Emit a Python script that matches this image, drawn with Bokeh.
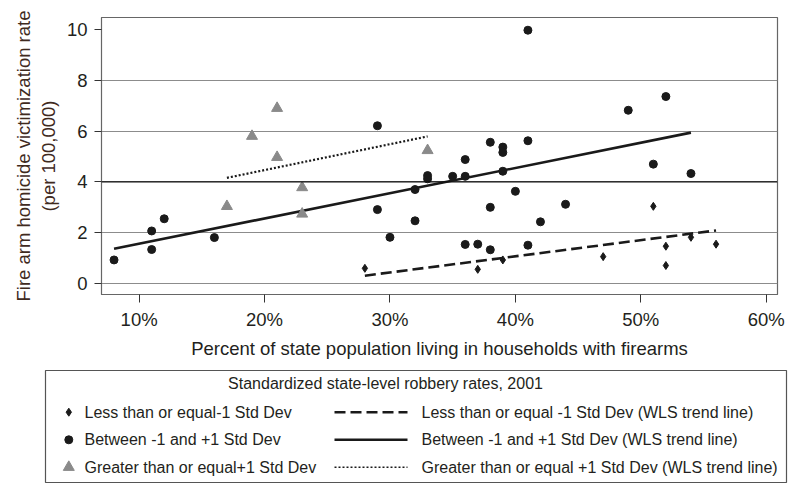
from bokeh.plotting import figure
from bokeh.layouts import column
from bokeh.models import FixedTicker, Span, Range1d
from bokeh.core.properties import value
from bokeh.embed import file_html
from bokeh.resources import INLINE

# ---- data ----
less_x = [28, 37, 39, 47, 51, 52, 52, 54, 56]
less_y = [0.60, 0.56, 0.93, 1.06, 3.04, 1.47, 0.71, 1.82, 1.55]

mid_x = [8, 11, 11, 12, 16, 29, 29, 30, 32, 32, 33, 33, 35, 36, 36, 36, 37,
         38, 38, 38, 39, 39, 39, 40, 41, 41, 41, 42, 44, 49, 51, 52, 54]
mid_y = [0.93, 2.07, 1.34, 2.55, 1.81, 6.21, 2.91, 1.82, 3.70, 2.47, 4.25, 4.12,
         4.22, 4.88, 4.22, 1.54, 1.55, 5.56, 3.00, 1.33, 5.37, 5.16, 4.42, 3.63,
         9.97, 5.62, 1.51, 2.43, 3.12, 6.82, 4.70, 7.36, 4.33]

high_x = [17, 19, 21, 21, 23, 23, 33]
high_y = [3.04, 5.80, 6.90, 4.97, 3.78, 2.74, 5.24]

less_trend_x = [28, 56]
less_trend_y = [0.31, 2.09]
mid_trend_x = [8, 54]
mid_trend_y = [1.37, 5.94]
high_trend_x = [17, 33]
high_trend_y = [4.16, 5.79]

x_ticks = [10, 20, 30, 40, 50, 60]
x_tick_labels = ["10%", "20%", "30%", "40%", "50%", "60%"]
y_ticks = [0, 2, 4, 6, 8, 10]
y_grid = [0, 2, 4, 6, 8]
dark_grid = [4]

legend_title = "Standardized state-level robbery rates, 2001"
legend_marker_labels = ["Less than or equal-1 Std Dev",
                        "Between -1 and +1 Std Dev",
                        "Greater than or equal+1 Std Dev"]
legend_line_labels = ["Less than or equal -1 Std Dev (WLS trend line)",
                      "Between -1 and +1 Std Dev (WLS trend line)",
                      "Greater than or equal +1 Std Dev (WLS trend line)"]

FONT = "Liberation Sans"
TXT = "#231f20"
BLACK = "#1a1a1a"
GREY = "#8a8a8a"

# ---- main plot ----
p = figure(width=791, height=364, x_range=Range1d(7, 60.9), y_range=Range1d(-0.43, 10.47),
           output_backend="svg", toolbar_location=None,
           min_border_left=101, min_border_right=14, min_border_top=17, min_border_bottom=70)
p.frame_align = False
p.outline_line_color = "#666666"
p.outline_line_width = 1.2
p.xgrid.visible = False
p.ygrid.ticker = FixedTicker(ticks=y_grid)
p.ygrid.grid_line_color = "#8c8c8c"
p.ygrid.grid_line_width = 1.2
for loc in dark_grid:
    p.add_layout(Span(location=loc, dimension="width", line_color="#111111", line_width=1.2))

for ax in (p.xaxis[0], p.yaxis[0]):
    ax.axis_line_color = "#666666"
    ax.major_tick_line_color = "#333333"
    ax.minor_tick_line_color = None
    ax.major_tick_in = 0
    ax.major_label_text_font = FONT
    ax.major_label_text_font_size = "18.5px"
    ax.major_label_text_color = TXT
    ax.axis_label_text_font = FONT
    ax.axis_label_text_font_size = "18.5px"
    ax.axis_label_text_font_style = "normal"

p.xaxis.ticker = FixedTicker(ticks=x_ticks)
p.xaxis.major_label_overrides = dict(zip(x_ticks, x_tick_labels))
p.xaxis.major_tick_out = 8
p.xaxis.major_label_standoff = 6
p.xaxis.axis_label = "Percent of state population living in households with firearms"
p.xaxis.axis_label_text_color = TXT
p.xaxis.axis_label_standoff = 5

p.yaxis.ticker = FixedTicker(ticks=y_ticks)
p.yaxis.major_tick_out = 7
p.yaxis.major_label_standoff = 7
p.yaxis.axis_label = "Fire arm homicide victimization rate\n(per 100,000)"
p.yaxis.axis_label_text_color = "#3f2a1e"
p.yaxis.axis_label_standoff = 5

p.line(less_trend_x, less_trend_y, line_color=BLACK, line_width=2.6, line_dash="11 5")
p.line(mid_trend_x, mid_trend_y, line_color=BLACK, line_width=2.6)
p.line(high_trend_x, high_trend_y, line_color=BLACK, line_width=2.2, line_dash="2 2")

p.scatter(less_x, less_y, marker="diamond", size=8, fill_color=BLACK, line_color=BLACK)
p.scatter(mid_x, mid_y, marker="circle", size=8, fill_color=BLACK, line_color=BLACK)
p.scatter(high_x, high_y, marker="triangle", size=11, fill_color=GREY, line_color=GREY)

# ---- legend panel ----
lf = figure(width=791, height=120, x_range=Range1d(0, 791), y_range=Range1d(120, 0),
            output_backend="svg", toolbar_location=None,
            min_border_left=0, min_border_right=0, min_border_top=0, min_border_bottom=0)
lf.frame_align = False
lf.axis.visible = False
lf.grid.visible = False
lf.outline_line_color = None
lf.quad(left=[45], right=[786], top=[6], bottom=[118], fill_color=None,
        line_color="#555555", line_width=1.2)
lf.text(x=[385], y=[19], text=[legend_title], text_font=value(FONT), text_font_size="16px",
        text_color=TXT, text_align="center", text_baseline="middle")
rows = [47.7, 75.3, 102.7]
lf.text(x=[84] * 3, y=rows, text=legend_marker_labels, text_font=value(FONT),
        text_font_size="16px", text_color=TXT, text_align="left", text_baseline="middle")
lf.text(x=[421] * 3, y=rows, text=legend_line_labels, text_font=value(FONT),
        text_font_size="16px", text_color=TXT, text_align="left", text_baseline="middle")
lf.scatter([68.3], [rows[0]], marker="diamond", size=8, fill_color=BLACK, line_color=BLACK)
lf.scatter([68.3], [rows[1]], marker="circle", size=8, fill_color=BLACK, line_color=BLACK)
lf.scatter([68.3], [rows[2]], marker="triangle", size=11, fill_color=GREY, line_color=GREY)
lf.line([334, 407], [rows[0]] * 2, line_color=BLACK, line_width=2.6, line_dash="11 5")
lf.line([334, 407], [rows[1]] * 2, line_color=BLACK, line_width=2.6)
lf.line([334, 407], [rows[2]] * 2, line_color=BLACK, line_width=1.6, line_dash="2 2")

layout = column(p, lf, spacing=0)
open("out.html", "w").write(file_html(layout, INLINE))
